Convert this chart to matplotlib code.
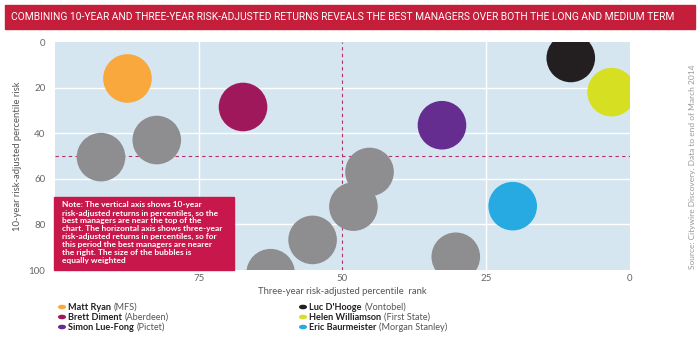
import matplotlib
matplotlib.use("Agg")
import matplotlib.pyplot as plt
from matplotlib.patches import Rectangle

# Highlighted managers
managers = ["Matt Ryan", "Brett Diment", "Simon Lue-Fong",
            "Luc D'Hooge", "Helen Williamson", "Eric Baurmeister"]
firms = ["(MFS)", "(Aberdeen)", "(Pictet)",
         "(Vontobel)", "(First State)", "(Morgan Stanley)"]
three_year_rank = [87.4, 67.3, 32.7, 10.3, 3.2, 20.4]
ten_year_rank = [16, 28.5, 36.5, 7, 22, 72]
manager_colors = ["#F8A83C", "#A0185C", "#662D91", "#231F20", "#D7DF23", "#27AAE1"]

# Other managers in the peer group
peer_three_year = [92.0, 82.3, 45.3, 48.1, 55.2, 62.5, 30.3]
peer_ten_year = [50.5, 43.0, 57.0, 72.2, 86.8, 101.4, 94.2]
peer_color = "#8E8E90"

x_ticks = [75, 50, 25, 0]
y_ticks = [0, 20, 40, 60, 80, 100]

FONT = ["Lato", "DejaVu Sans"]
plt.rcParams["font.family"] = FONT

fig = plt.figure(figsize=(7.0, 3.39), dpi=100)
ax = fig.add_axes([55 / 700, 1 - 270 / 339, 575 / 700, 228 / 339])
ax.set_facecolor("#D6E6F0")
ax.set_xlim(100, 0)
ax.set_ylim(100, 0)

# White grid
for v in [75, 25]:
    ax.axvline(v, color="white", lw=1.0, zorder=1)
for v in [20, 40, 60, 80]:
    ax.axhline(v, color="white", lw=1.0, zorder=1)
# Median lines
ax.axvline(50, color="#B03068", lw=0.8, ls=(0, (3, 3)), zorder=1)
ax.axhline(50, color="#B03068", lw=0.8, ls=(0, (3, 3)), zorder=1)

bubble_size = 35 ** 2
ax.scatter(peer_three_year, peer_ten_year, s=bubble_size, color=peer_color,
           edgecolors="none", zorder=3)
ax.scatter(three_year_rank, ten_year_rank, s=bubble_size, color=manager_colors,
           edgecolors="none", zorder=3)

for s in ax.spines.values():
    s.set_visible(False)
ax.set_xticks(x_ticks)
ax.set_yticks(y_ticks)
ax.tick_params(axis="x", length=0, labelsize=7, labelcolor="#666666", pad=3)
ax.tick_params(axis="y", length=0, labelsize=7, labelcolor="#666666", pad=7)
ax.set_xlabel("Three-year risk-adjusted percentile  rank", fontsize=6.8,
              color="#555555", labelpad=3)
ax.set_ylabel("10-year risk-adjusted percentile risk", fontsize=6.8,
              color="#555555", labelpad=5)

# Note box
note = ("Note: The vertical axis shows 10-year\n"
        "risk-adjusted returns in percentiles, so the\n"
        "best managers are near the top of the\n"
        "chart. The horizontal axis shows three-year\n"
        "risk-adjusted returns in percentiles, so for\n"
        "this period the best managers are nearer\n"
        "the right. The size of the bubbles is\n"
        "equally weighted")
fig.patches.append(Rectangle((54 / 700, 1 - 270 / 339), 180 / 700, 73 / 339,
                             transform=fig.transFigure, color="#C8174A",
                             zorder=5))
fig.text(62 / 700, 1 - 201.5 / 339, note, fontsize=6, fontweight="bold",
         color="white", va="top", ha="left", linespacing=1.15, zorder=6)

# Title banner
fig.patches.append(Rectangle((5 / 700, 1 - 29 / 339), 690 / 700, 24 / 339,
                             transform=fig.transFigure, color="#C41E3A"))
fig.text(11 / 700, 1 - 17 / 339,
         "COMBINING 10-YEAR AND THREE-YEAR RISK-ADJUSTED RETURNS REVEALS THE BEST "
         "MANAGERS OVER BOTH THE LONG AND MEDIUM TERM",
         fontsize=7.35, color="white", va="center", ha="left",
         family=["Roboto", "DejaVu Sans"])

# Source
fig.text(692 / 700, 1 - 167 / 339,
         "Source: Citywire Discovery. Data to end of March 2014",
         rotation=90, fontsize=6, color="#999999", va="center", ha="center")

# Legend
fig.canvas.draw()
renderer = fig.canvas.get_renderer()
col_x = [62, 303]
row_y = [307, 317, 327]
for i, (name, firm, c) in enumerate(zip(managers, firms, manager_colors)):
    cx = col_x[i // 3]
    cy = 1 - row_y[i % 3] / 339
    fig.patches.append(plt.Circle((cx / 700, cy), 3.3 / 700,
                                  transform=fig.transFigure, color=c))
    t = fig.text((cx + 6) / 700, cy, name, fontsize=6.6, fontweight="bold",
                 color="#231F20", va="center", ha="left")
    bb = t.get_window_extent(renderer)
    fig.text((bb.x1 + 3) / 700, cy, firm, fontsize=6.6, color="#555555",
             va="center", ha="left")

fig.savefig("out.png", dpi=100)
